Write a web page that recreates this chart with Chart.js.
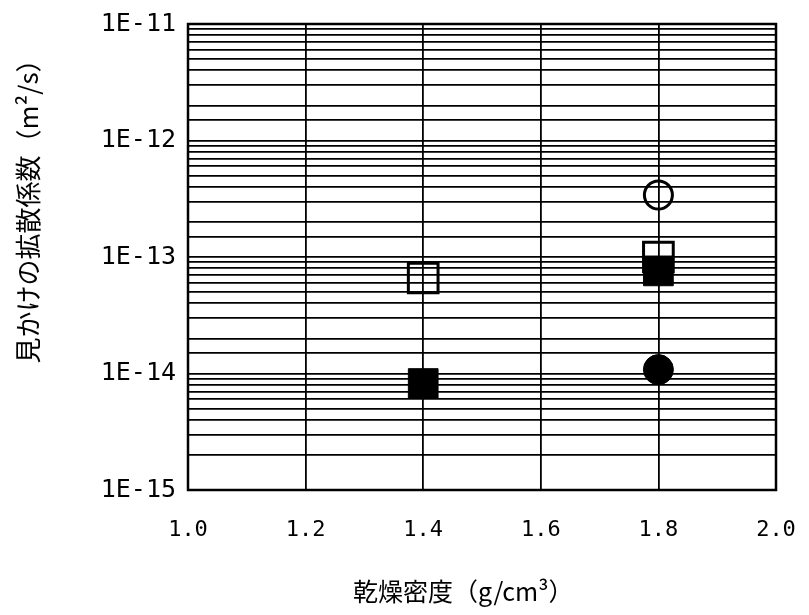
<!DOCTYPE html>
<html>
<head>
<meta charset="utf-8">
<script src="https://cdn.jsdelivr.net/npm/chart.js@4/dist/chart.umd.min.js"></script>
<style>
html,body{margin:0;padding:0;background:#fff;}
#wrap{width:809px;height:615px;position:relative;}
</style>
</head>
<body>
<div id="wrap"><canvas id="c" width="809" height="615"></canvas></div>
<script>
// Data
const xOpenSquare = [1.4, 1.8];
const yOpenSquare = [6.6e-14, 1.0e-13];
const xFilledSquare = [1.4, 1.8];
const yFilledSquare = [8.2e-15, 7.6e-14];
const xOpenCircle = [1.8];
const yOpenCircle = [3.4e-13];
const xFilledCircle = [1.8];
const yFilledCircle = [1.08e-14];

const xTitle = '乾燥密度（g/cm³）\u3000\u3000';
const yTitle = '\u3000\u3000\u3000\u3000見かけの拡散係数（m²/s）';
const xMin = 1.0, xMax = 2.0, xStep = 0.2;
const yMin = 1e-15, yMax = 1e-11;

function pts(xs, ys){ return xs.map((x,i)=>({x:x, y:ys[i]})); }

const frame = {
  id:'frame',
  afterDatasetsDraw(chart){
    const a = chart.chartArea, ctx = chart.ctx;
    ctx.save();
    ctx.strokeStyle = '#000';
    ctx.lineWidth = 2.5;
    ctx.strokeRect(a.left, a.top, a.right-a.left, a.bottom-a.top);
    ctx.restore();
  }
};

new Chart(document.getElementById('c'), {
  type: 'scatter',
  data: {
    datasets: [
      {label:'open square', data: pts(xOpenSquare, yOpenSquare), pointStyle:'rect', pointRadius:21, borderColor:'#000', backgroundColor:'rgba(0,0,0,0)', borderWidth:3},
      {label:'filled square', data: pts(xFilledSquare, yFilledSquare), pointStyle:'rect', pointRadius:21, borderColor:'#000', backgroundColor:'#000', borderWidth:1},
      {label:'open circle', data: pts(xOpenCircle, yOpenCircle), pointStyle:'circle', pointRadius:14, borderColor:'#000', backgroundColor:'rgba(0,0,0,0)', borderWidth:3},
      {label:'filled circle', data: pts(xFilledCircle, yFilledCircle), pointStyle:'circle', pointRadius:15, borderColor:'#000', backgroundColor:'#000', borderWidth:1}
    ]
  },
  options: {
    responsive:false,
    animation:false,
    layout:{padding:{top:21, right:33, left:0, bottom:0}},
    plugins:{legend:{display:false}, tooltip:{enabled:false}},
    scales:{
      x:{
        type:'linear', min:xMin, max:xMax,
        ticks:{stepSize:xStep, color:'#000', padding:2, font:{family:'DejaVu Sans Mono', size:22},
          callback:(v)=>Number(v).toFixed(1)},
        grid:{color:'#000', lineWidth:1.8, drawTicks:true, tickLength:25, tickColor:'rgba(0,0,0,0)'},
        border:{display:true, color:'#000', width:2},
        title:{display:true, text:xTitle, color:'#000', font:{family:'Noto Sans CJK JP', size:25}, padding:{top:20, bottom:9}},
        afterFit(s){ s.height = 125; }
      },
      y:{
        type:'logarithmic', min:yMin, max:yMax,
        ticks:{color:'#000', padding:2, autoSkip:false, font:{family:'DejaVu Sans Mono', size:25},
          callback:(v)=>{ const e=Math.log10(v); const r=Math.round(e); return Math.abs(e-r)<1e-6 ? '1E'+r : ''; }},
        grid:{color:'#000', lineWidth:1.8, drawTicks:true, tickLength:10, tickColor:'rgba(0,0,0,0)'},
        border:{display:true, color:'#000', width:2},
        title:{display:true, text:yTitle, color:'#000', font:{family:'Noto Sans CJK JP', size:26}, padding:{top:13, bottom:8}},
        afterFit(s){ s.width = 188; }
      }
    }
  },
  plugins:[frame]
});
</script>
</body>
</html>
